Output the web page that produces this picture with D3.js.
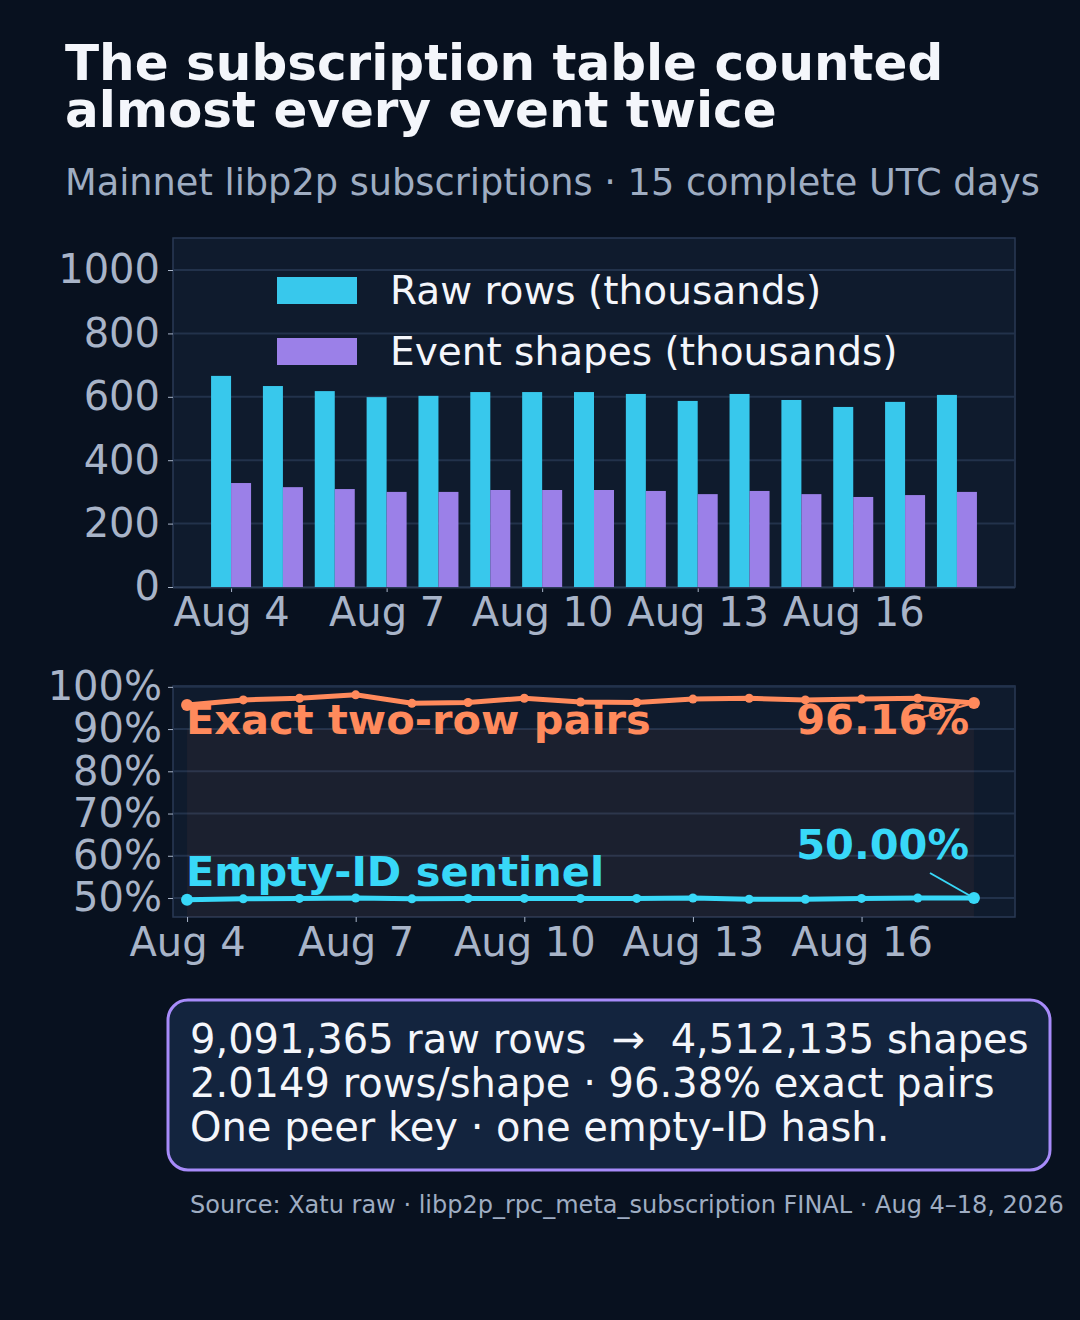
<!DOCTYPE html>
<html><head><meta charset="utf-8">
<script src="https://cdn.jsdelivr.net/npm/d3@7"></script>
<style>body{margin:0;background:#08111f}svg{font-family:"DejaVu Sans",sans-serif}</style>
</head><body><svg id="c" width="1080" height="1320"></svg>
<script>
// daily values, Aug 4 - Aug 18 2026
var days = ["2026-08-04","2026-08-05","2026-08-06","2026-08-07","2026-08-08","2026-08-09","2026-08-10","2026-08-11","2026-08-12","2026-08-13","2026-08-14","2026-08-15","2026-08-16","2026-08-17","2026-08-18"];
var rawRows = [666,634,618,599,603,615,615,615,609,587,609,590,568,584,606];
var shapes = [328,315,309,300,300,306,306,306,303,293,303,293,284,290,300];
var exactPairs = [95.7,96.9,97.3,98.1,96.1,96.3,97.3,96.4,96.3,97.1,97.3,96.9,97.1,97.3,96.16];
var emptyId = [49.6,49.8,49.9,50.0,49.8,49.9,49.9,49.9,49.9,50.0,49.7,49.7,49.9,50.0,50.0];
var barTicks = [0,200,400,600,800,1000];
var pctTicks = [50,60,70,80,90,100];
var dateTicks = ["2026-08-04","2026-08-07","2026-08-10","2026-08-13","2026-08-16"];

var parse = d3.utcParse("%Y-%m-%d"), fmt = d3.utcFormat("Aug %-d");
var dates = days.map(parse), tickDates = dateTicks.map(parse);
var svg = d3.select("#c");
svg.append("rect").attr("width",1080).attr("height",1320).attr("fill","#08111f");
var DAY = 864e5;

// titles
svg.append("text").attr("x",65).attr("y",80).attr("fill","#f4f6fb").attr("font-size",50).attr("font-weight","bold").text("The subscription table counted");
svg.append("text").attr("x",65).attr("y",127).attr("fill","#f4f6fb").attr("font-size",50).attr("font-weight","bold").text("almost every event twice");
svg.append("text").attr("x",65).attr("y",195).attr("fill","#9fadc2").attr("font-size",36.7).text("Mainnet libp2p subscriptions · 15 complete UTC days");

function frame(x0,y0,x1,y1){
  svg.append("rect").attr("x",x0).attr("y",y0).attr("width",x1-x0).attr("height",y1-y0).attr("fill","#0f1b2d").attr("stroke","#2a3a55").attr("stroke-width",1.5);
}
function styleAxis(g){
  g.select(".domain").remove();
  g.selectAll("line").attr("stroke","#a8b4c8");
  g.selectAll("text").attr("fill","#a8b4c8").attr("font-size",40).attr("font-family","DejaVu Sans");
}

// bar chart
var b = {l:173,r:1015,t:238,b:587};
frame(b.l,b.t,b.r,b.b);
var xb = d3.scaleUtc().domain([dates[0]-1.12*DAY, +dates[14]+1.12*DAY]).range([b.l,b.r]);
var yb = d3.scaleLinear().domain([0,1101]).range([b.b,b.t]);
svg.append("g").selectAll("line").data(barTicks).join("line")
  .attr("x1",b.l).attr("x2",b.r).attr("y1",yb).attr("y2",yb).attr("stroke","#22324b").attr("stroke-width",2);
svg.append("g").selectAll("rect").data(rawRows).join("rect")
  .attr("x",(d,i)=>xb(dates[i])-20).attr("width",20).attr("y",d=>yb(d)).attr("height",d=>b.b-yb(d)).attr("fill","#38c8ec");
svg.append("g").selectAll("rect").data(shapes).join("rect")
  .attr("x",(d,i)=>xb(dates[i])).attr("width",20).attr("y",d=>yb(d)).attr("height",d=>b.b-yb(d)).attr("fill","#9b80e8");
styleAxis(svg.append("g").attr("transform","translate("+b.l+",0)").call(d3.axisLeft(yb).tickValues(barTicks).tickFormat(d3.format("d")).tickSize(5).tickPadding(8)));
styleAxis(svg.append("g").attr("transform","translate(0,"+b.b+")").call(d3.axisBottom(xb).tickValues(tickDates).tickFormat(fmt).tickSize(5).tickPadding(6)));
svg.append("rect").attr("x",b.l).attr("y",b.b).attr("width",b.r-b.l).attr("height",1.5).attr("fill","#2a3a55");
// legend
[["Raw rows (thousands)","#38c8ec",277],["Event shapes (thousands)","#9b80e8",338]].forEach(function(l){
  svg.append("rect").attr("x",277).attr("y",l[2]).attr("width",80).attr("height",27).attr("fill",l[1]);
  svg.append("text").attr("x",390).attr("y",l[2]+27).attr("fill","#f4f6fb").attr("font-size",39).text(l[0]);
});

// line chart
var p = {l:173,r:1015,t:686,b:917};
frame(p.l,p.t,p.r,p.b);
var xl = d3.scaleUtc().domain([dates[0]-0.25*DAY, +dates[14]+0.73*DAY]).range([p.l,p.r]);
var yl = d3.scaleLinear().domain([45.5,100.2]).range([p.b,p.t]);
svg.append("g").selectAll("line").data(pctTicks).join("line")
  .attr("x1",p.l).attr("x2",p.r).attr("y1",yl).attr("y2",yl).attr("stroke","#22324b").attr("stroke-width",2);
svg.append("rect").attr("x",xl(dates[0])).attr("width",xl(dates[14])-xl(dates[0]))
  .attr("y",yl(90)).attr("height",p.b-yl(90)).attr("fill","#ff8a5c").attr("opacity",0.05);
styleAxis(svg.append("g").attr("transform","translate("+p.l+",0)").call(d3.axisLeft(yl).tickValues(pctTicks).tickFormat(d=>d+"%").tickSize(5).tickPadding(6)));
styleAxis(svg.append("g").attr("transform","translate(0,"+p.b+")").call(d3.axisBottom(xl).tickValues(tickDates).tickFormat(fmt).tickSize(5).tickPadding(6)));

[[exactPairs,"#ff8a5c"],[emptyId,"#38d8f8"]].forEach(function(s){
  svg.append("path").datum(s[0]).attr("fill","none").attr("stroke",s[1]).attr("stroke-width",5)
    .attr("d",d3.line().x((d,i)=>xl(dates[i])).y(d=>yl(d)));
  svg.append("g").selectAll("circle").data(s[0]).join("circle")
    .attr("cx",(d,i)=>xl(dates[i])).attr("cy",d=>yl(d)).attr("r",(d,i)=>i==0||i==14?6:4.5).attr("fill",s[1]);
});
var lx = xl(dates[14]);
svg.append("line").attr("x1",905).attr("y1",722).attr("x2",lx).attr("y2",yl(exactPairs[14])).attr("stroke","#ff8a5c").attr("stroke-width",2);
svg.append("line").attr("x1",930).attr("y1",873).attr("x2",lx).attr("y2",yl(emptyId[14])).attr("stroke","#38d8f8").attr("stroke-width",2);
svg.append("text").attr("x",186).attr("y",734).attr("fill","#ff8a5c").attr("font-size",41.5).attr("font-weight","bold").text("Exact two-row pairs");
svg.append("text").attr("x",969).attr("y",734).attr("text-anchor","end").attr("fill","#ff8a5c").attr("font-size",41.5).attr("font-weight","bold").text(exactPairs[14].toFixed(2)+"%");
svg.append("text").attr("x",186).attr("y",886).attr("fill","#38d8f8").attr("font-size",41.5).attr("font-weight","bold").text("Empty-ID sentinel");
svg.append("text").attr("x",969).attr("y",859).attr("text-anchor","end").attr("fill","#38d8f8").attr("font-size",41.5).attr("font-weight","bold").text(emptyId[14].toFixed(2)+"%");

// summary box
svg.append("rect").attr("x",168).attr("y",1000).attr("width",882).attr("height",170).attr("rx",20)
  .attr("fill","#13243e").attr("stroke","#a78bfa").attr("stroke-width",3);
["9,091,365 raw rows  →  4,512,135 shapes","2.0149 rows/shape · 96.38% exact pairs","One peer key · one empty-ID hash."].forEach(function(t,i){
  svg.append("text").attr("x",190).attr("y",1053+i*44).attr("fill","#f4f6fb").attr("font-size",40).attr("xml:space","preserve").style("white-space","pre").text(t);
});
svg.append("text").attr("x",190).attr("y",1213).attr("fill","#9fadc2").attr("font-size",24).text("Source: Xatu raw · libp2p_rpc_meta_subscription FINAL · Aug 4–18, 2026");
</script></body></html>
